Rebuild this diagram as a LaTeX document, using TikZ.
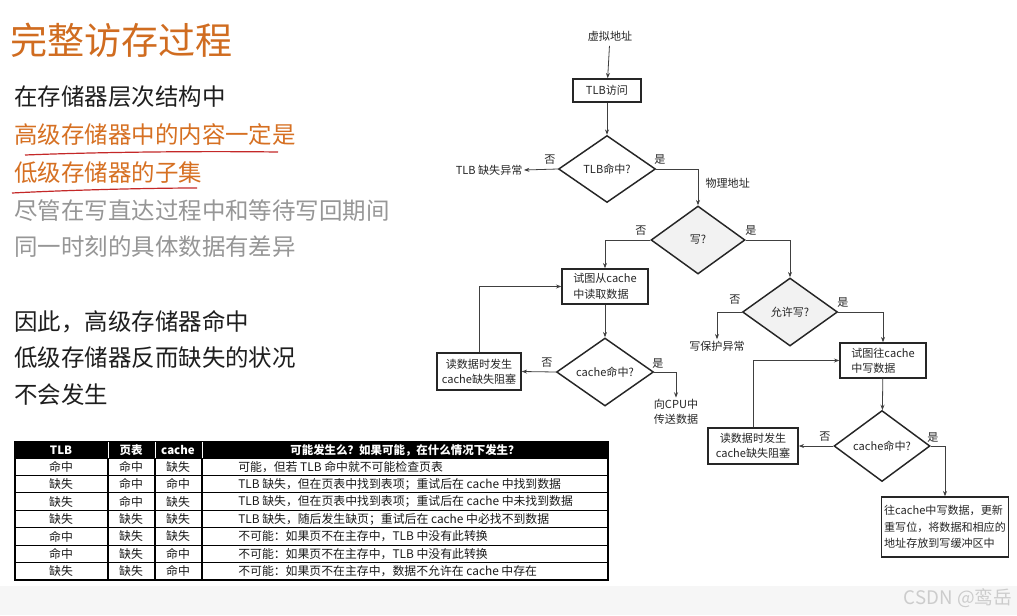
\documentclass[tikz,border=0pt]{standalone}
\usepackage{fontspec}
\setmainfont{Noto Sans CJK SC}
\usetikzlibrary{shapes.geometric,arrows.meta}
\definecolor{ttlorange}{RGB}{208,108,32}
\definecolor{orgtxt}{RGB}{214,112,34}
\definecolor{blktxt}{RGB}{30,30,30}
\definecolor{grytxt}{RGB}{150,150,150}
\definecolor{redline}{RGB}{196,40,40}
\begin{document}
\begin{tikzpicture}[x=0.75pt,y=-0.75pt,
  fc/.style={font=\fontsize{8.3}{11.5}\selectfont, text=black!85},
  box/.style={fc, draw=black!85, line width=1.1pt, align=left, inner sep=2pt},
  dia/.style={fc, draw=black!85, line width=1.1pt, diamond, aspect=1.4, inner sep=0pt},
  conn/.style={draw=black!75, line width=0.6pt},
  arr/.style={conn, -{Stealth[length=4pt,width=3pt]}},
  lbl/.style={fc, inner sep=0pt},
  ltxt/.style={anchor=west, inner sep=0pt, font=\fontsize{17.6}{20}\selectfont},
  th/.style={font=\bfseries\fontsize{8.6}{10}\selectfont, text=white, inner sep=0pt},
  td/.style={font=\fontsize{8.9}{10}\selectfont, text=black!90, inner sep=0pt},
]
\useasboundingbox (0,0) rectangle (1017,615);
\fill[white] (0,0) rectangle (1017,615);
\fill[gray!7] (0,586) rectangle (1017,615);

% ---- left text ----
\node[anchor=west, inner sep=0pt, text=ttlorange, font=\fontsize{27.8}{30}\selectfont] (title) at (10,40) {完整访存过程};
\node[ltxt, text=blktxt] (t1) at (14,97) {在存储器层次结构中};
\node[ltxt, text=orgtxt] (t2) at (14,135) {高级存储器中的内容一定是};
\node[ltxt, text=orgtxt] (t3) at (14,173) {低级存储器的子集};
\node[ltxt, text=grytxt] (t4) at (14,211) {尽管在写直达过程中和等待写回期间};
\node[ltxt, text=grytxt] (t5) at (14,247) {同一时刻的具体数据有差异};
\node[ltxt, text=blktxt] (t6) at (14,322) {因此，高级存储器命中};
\node[ltxt, text=blktxt] (t7) at (14,358) {低级存储器反而缺失的状况};
\node[ltxt, text=blktxt] (t8) at (14,395) {不会发生};
\draw[redline, line width=0.9pt] (25,155) .. controls (100,152) and (200,151) .. (278,152);
\draw[redline, line width=0.9pt] (12,193) .. controls (70,190) and (150,188) .. (197,188);

% ---- table ----
\fill[black] (15,442) rectangle (608,458);
\draw[line width=0.8pt] (15,442) rectangle (608,580);
\draw[line width=0.8pt] (15,458) -- (608,458);
\foreach \k in {1,...,6} \draw[line width=0.8pt] (15,{458+17.43*\k}) -- (608,{458+17.43*\k});
\foreach \x in {108,155,202} {
  \draw[white, line width=0.5pt] (\x,442) -- (\x,458);
  \draw[line width=0.8pt] (\x,458) -- (\x,580);
}
\node[th] (h1) at (61,450) {TLB};
\node[th] (h2) at (131,450) {页表};
\node[th] (h3) at (178,450) {cache};
\node[th] (h4) at (405,450) {可能发生么？如果可能，在什么情况下发生？};
\foreach [count=\i] \a/\b/\c/\d in {
  命中/命中/缺失/{可能，但若 TLB 命中就不可能检查页表},
  缺失/命中/命中/{TLB 缺失，但在页表中找到表项；重试后在 cache 中找到数据},
  缺失/命中/缺失/{TLB 缺失，但在页表中找到表项；重试后在 cache 中未找到数据},
  缺失/缺失/缺失/{TLB 缺失，随后发生缺页；重试后在 cache 中必找不到数据},
  命中/缺失/缺失/{不可能：如果页不在主存中，TLB 中没有此转换},
  命中/缺失/命中/{不可能：如果页不在主存中，TLB 中没有此转换},
  缺失/缺失/命中/{不可能：如果页不在主存中，数据不允许在 cache 中存在}} {
  \node[td] (r\i-a) at (61,{458+17.43*(\i-0.5)}) {\a};
  \node[td] (r\i-b) at (131,{458+17.43*(\i-0.5)}) {\b};
  \node[td] (r\i-c) at (178,{458+17.43*(\i-0.5)}) {\c};
  \node[td, anchor=west] (r\i-d) at (238,{458+17.43*(\i-0.5)}) {\d};
}

% ---- flowchart ----
\node[fc] (va) at (610,36) {虚拟地址};
\node[box, align=center, minimum width=51pt, minimum height=17.25pt] (tlbacc) at (607,90.5) {TLB访问};
\node[dia, minimum width=72.75pt, minimum height=50.25pt] (tlbhit) at (607,169) {TLB命中?};
\node[fc, anchor=east, inner sep=1pt] (tlbmiss) at (524,170) {TLB 缺失异常};
\node[fc, anchor=west, inner sep=1pt] (phys) at (704,183) {物理地址};
\node[dia, fill=gray!10, minimum width=70.5pt, minimum height=51pt] (write) at (698,240) {写?};
\node[box, minimum width=64.5pt, minimum height=26.25pt] (rtry) at (605,286.5) {试图从cache\\中读取数据};
\node[dia, minimum width=72.75pt, minimum height=51pt] (rhit) at (605,372) {cache命中?};
\node[box, align=center, minimum width=63pt, minimum height=27.75pt] (rmiss) at (479,371.5) {读数据时发生\\cache缺失阻塞};
\node[fc, align=center, inner sep=1pt] (tocpu) at (676,412) {向CPU中\\传送数据};
\node[dia, fill=gray!10, minimum width=71.25pt, minimum height=51pt] (allow) at (790,312) {允许写?};
\node[fc, inner sep=1pt] (wprot) at (717,346) {写保护异常};
\node[box, minimum width=64.5pt, minimum height=26.25pt] (wtry) at (883,360.5) {试图往cache\\中写数据};
\node[dia, minimum width=72pt, minimum height=53.25pt] (whit) at (882,446) {cache命中?};
\node[box, align=center, minimum width=67.5pt, minimum height=27pt] (wmiss) at (753,446) {读数据时发生\\cache缺失阻塞};
\node[box, font=\fontsize{8.3}{12.3}\selectfont, minimum width=91.5pt, minimum height=45pt] (wdone) at (945,527) {往cache中写数据，更新\\重写位，将数据和相应的\\地址存放到写缓冲区中};

\draw[arr] (va) -- (tlbacc);
\draw[arr] (tlbacc) -- (tlbhit);
\draw[arr] (tlbhit.west) -- (tlbmiss.east);
\draw[arr] (tlbhit.east) -| (write.north);
\draw[arr] (write.west) -| (rtry.north);
\draw[arr] (write.east) -| (allow.north);
\draw[arr] (rtry) -- (rhit);
\draw[arr] (rhit.west) -- (rmiss.east);
\draw[arr] (rmiss.north) |- (rtry.west);
\draw[arr] (rhit.east) -| (tocpu.north);
\draw[arr] (allow.west) -| (wprot.north);
\draw[arr] (allow.east) -| (wtry.north);
\draw[arr] (wtry) -- (whit);
\draw[arr] (whit.west) -- (wmiss.east);
\draw[arr] (wmiss.north) |- (wtry.west);
\draw[arr] (whit.east) -| (wdone.north);

\node[lbl] (l1) at (550,160) {否};
\node[lbl] (l2) at (660,160) {是};
\node[lbl] (l3) at (641,231) {否};
\node[lbl] (l4) at (751,231) {是};
\node[lbl] (l5) at (547,363) {否};
\node[lbl] (l6) at (658,364) {是};
\node[lbl] (l7) at (735,300) {否};
\node[lbl] (l8) at (843,303) {是};
\node[lbl] (l9) at (825,437) {否};
\node[lbl] (l10) at (933,438) {是};

\node[font=\fontsize{14}{15}\selectfont, text=gray!40, inner sep=0pt] (wm) at (958,598) {CSDN @鸾岳};
\end{tikzpicture}
\end{document}
